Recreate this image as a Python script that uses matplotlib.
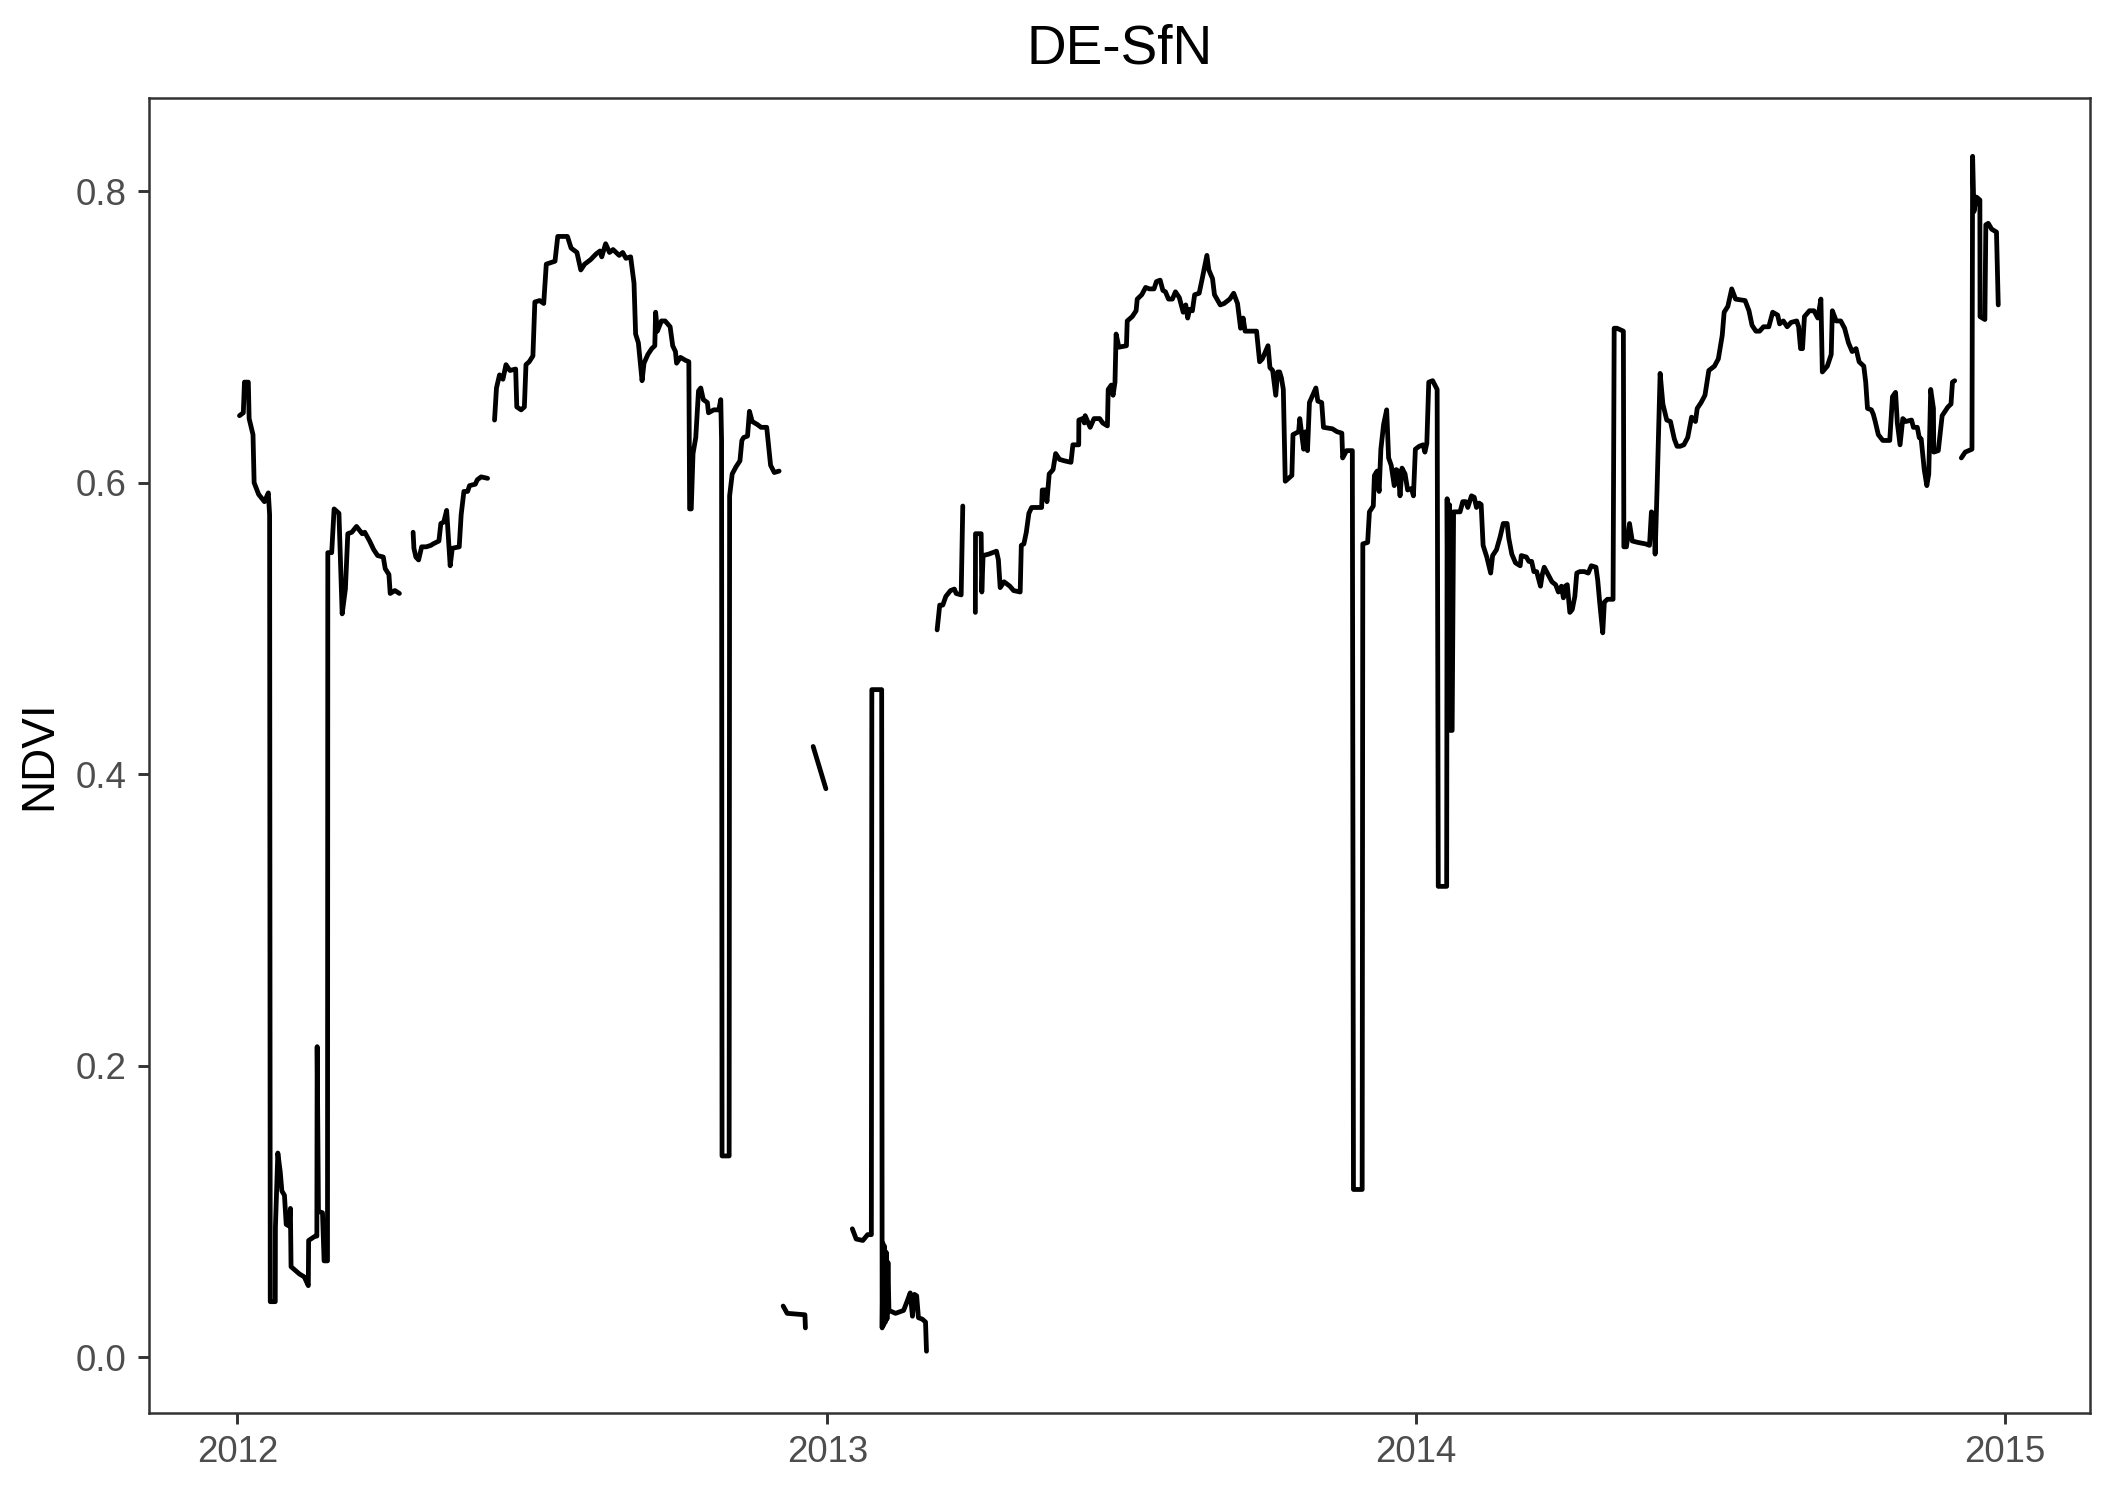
import numpy as np
import matplotlib
matplotlib.use("Agg")
import matplotlib.pyplot as plt
import matplotlib.dates as mdates
from datetime import datetime

plt.rcParams['font.family'] = ['Liberation Sans', 'DejaVu Sans']

title = "DE-SfN"
y_label = "NDVI"
start = datetime(2012, 1, 1)

# days since 2012-01-01, NaN marks a gap in the record
day = [
    1.3, 3.7, 4.4, 6.8, 7.3, 9.7, 10.4, 13.2, 16.8, 19.2, 20.0, 20.4, 23.5, 23.6,
    25.1, 26.6, 27.6, 29.2, 30.3, 31.9, 32.9, 33.3, 38.5, 41.5, 44.0, 44.2, 48.3,
    49.3, 49.5, 50.3, 52.8, 53.8, 55.9, 56.1, 58.5, 60.0, 63.0, 65.0, 67.0, 68.5,
    71.0, 73.9, 77.4, 79.0, 82.0, 84.6, 87.0, 90.5, 91.7, 94.0, 94.8, 97.7, 100.5,
    np.nan,
    109.0, 109.5, 110.7, 112.4, 114.3, 117.2, 120.0, 121.4, 125.0, 126.2, 128.0,
    129.8, 131.0, 132.0, 133.3, 137.6, 138.8, 140.5, 142.8, 144.0, 147.6, 148.8,
    151.2, 155.2,
    np.nan,
    159.5, 160.7, 162.6, 164.7, 166.6, 169.0, 172.6, 173.3, 176.0, 178.0, 179.0,
    181.0, 183.3, 184.5, 187.5, 190.0, 191.6, 197.0, 198.7, 204.7, 207.0, 210.6,
    213.0, 215.4, 219.0, 222.5, 224.9, 226.0, 228.4, 230.8, 233.0, 236.8, 239.0,
    241.0, 243.9, 246.0, 247.0, 248.7, 251.0, 252.2, 254.6, 257.0, 258.9, 259.4,
    260.5, 263.0, 265.3, 268.4, 270.0, 271.7, 272.4, 274.8, 277.9, 280.0, 280.5,
    281.5, 282.6, 284.3, 286.0, 287.4, 289.0, 291.5, 292.2, 295.5, 298.6, 299.8,
    300.3, 300.6, 305.0, 305.3, 306.9, 309.3, 311.7, 312.9, 314.0, 316.4, 317.6,
    319.3, 322.4, 324.8, 328.3, 330.7, 333.0, 336.0,
    np.nan,
    338.5, 341.0, 352.0, 352.3,
    np.nan,
    357.1, 365.0,
    np.nan,
    381.4, 383.8, 387.9, 390.9, 393.2, 393.5, 399.6, 399.9, 400.4, 400.9, 401.4,
    401.9, 402.4, 402.9, 403.5, 404.1, 408.2, 413.2, 415.3, 417.3, 418.7, 419.9,
    421.3, 422.4, 424.8, 426.8, 427.4,
    np.nan,
    434.0, 435.6, 437.5, 439.4, 442.3, 444.7, 445.8, 448.9, 449.9,
    np.nan,
    457.7, 457.8, 461.3, 461.7, 462.5, 466.0, 470.8, 472.0, 473.1, 475.5, 479.1,
    481.4, 485.5, 486.2, 487.8, 489.3, 490.9, 492.6, 498.8, 499.2, 501.1, 502.1,
    503.5, 505.9, 507.5, 509.9, 513.0, 517.0, 518.2, 521.8, 521.9, 524.2, 525.3,
    525.8, 528.9, 531.3, 534.8, 536.7, 539.6, 540.1, 542.0, 543.1, 544.3, 545.0,
    546.7, 551.4, 551.9, 555.0, 557.4, 558.1, 560.9, 563.3, 565.7, 568.5, 570.0,
    572.3, 574.0, 575.6, 577.5, 579.9, 581.8, 584.2, 586.6, 588.2, 589.4, 590.6,
    592.3, 593.7, 596.5, 598.4, 601.3, 602.5, 604.8, 606.0, 609.6, 612.0, 615.5,
    617.9, 620.3, 622.2, 623.8, 625.0, 628.6, 632.1, 634.0, 635.7, 639.2, 640.4,
    642.1, 644.0, 645.2, 646.4, 647.5, 648.7, 649.9, 653.0, 654.0, 654.7, 658.2,
    658.9, 661.3, 662.5, 663.7, 664.9, 668.9, 670.1, 672.5, 673.6, 679.1, 682.0,
    685.0, 685.5, 687.9, 691.5, 692.2, 697.6, 698.0, 701.0, 702.1, 704.5, 705.2,
    706.9, 708.1, 709.2, 710.9, 712.8, 714.0, 715.6, 717.5, 718.7, 719.9, 721.1,
    722.3, 724.2, 725.8, 728.2, 729.4, 730.6, 733.0, 735.4, 736.5, 737.7, 738.9,
    741.3, 744.1, 744.8, 750.0, 750.3, 751.0, 751.7, 752.4, 753.4, 754.3, 758.3,
    760.0, 761.9, 763.1, 765.4, 767.1, 768.5, 770.2, 771.4, 772.6, 774.9, 777.3,
    778.5, 780.9, 783.2, 785.1, 787.5, 788.5, 790.4, 792.7, 795.6, 796.3, 799.4,
    801.0, 802.7, 804.1, 805.8, 808.2, 809.3, 810.5, 815.3, 817.6, 819.3, 821.2,
    822.4, 823.6, 824.8, 826.4, 827.9, 829.5, 830.7, 832.6, 835.4, 837.8, 839.7,
    842.6, 843.7, 844.9, 846.8, 847.8, 849.7, 853.2, 853.9, 855.6, 859.6, 859.9,
    861.5, 863.4, 865.1, 868.7, 873.4, 875.8, 877.0, 878.6, 879.3, 880.5, 881.7,
    882.4, 884.1, 886.5, 888.8, 891.2, 892.9, 894.8, 897.1, 899.5, 901.9, 904.3,
    905.4, 907.8, 910.2, 912.6, 916.1, 918.5, 920.9, 922.1, 924.4, 926.8, 929.2,
    935.1, 937.5, 939.4, 941.8, 944.1, 946.5, 949.8, 952.2, 955.3, 956.5, 958.8,
    961.2, 963.6, 967.1, 968.3, 969.5, 970.7, 971.9, 975.0, 977.8, 980.2, 982.1,
    983.0, 986.1, 988.5, 989.2, 991.6, 994.4, 996.8, 999.2, 1001.5, 1003.9,
    1005.8, 1008.7, 1009.9, 1011.0, 1013.4, 1014.6, 1015.8, 1017.7, 1020.5,
    1024.8, 1026.5, 1028.4, 1029.5, 1031.2, 1032.9, 1034.8, 1038.3, 1039.5,
    1041.9, 1043.1, 1044.3, 1046.2, 1047.8, 1049.0, 1050.2, 1051.9, 1052.1,
    1054.9, 1057.3, 1060.9, 1062.8, 1063.7, 1065.1,
    np.nan,
    1069.2, 1071.6, 1075.8, 1076.2, 1077.0, 1078.6, 1080.7, 1080.8, 1083.8,
    1084.4, 1085.9, 1088.0, 1091.0, 1092.1,
]

ndvi = [
    0.646, 0.648, 0.669, 0.669, 0.644, 0.633, 0.600, 0.592, 0.587, 0.593, 0.578, 0.038, 0.038, 0.089,
    0.140, 0.127, 0.114, 0.111, 0.091, 0.090, 0.102, 0.062, 0.057, 0.055, 0.049, 0.080, 0.083,
    0.083, 0.213, 0.100, 0.099, 0.066, 0.066, 0.552, 0.552, 0.582, 0.579, 0.510, 0.527, 0.565,
    0.566, 0.570, 0.565, 0.566, 0.560, 0.554, 0.550, 0.549, 0.541, 0.537, 0.524, 0.526, 0.524,
    np.nan,
    0.566, 0.555, 0.549, 0.547, 0.556, 0.556, 0.557, 0.558, 0.560, 0.572, 0.573,
    0.581, 0.560, 0.543, 0.555, 0.556, 0.578, 0.594, 0.594, 0.598, 0.599, 0.602,
    0.604, 0.603,
    np.nan,
    0.643, 0.665, 0.674, 0.671, 0.681, 0.677, 0.678, 0.652, 0.650, 0.652, 0.681,
    0.683, 0.687, 0.724, 0.725, 0.723, 0.750, 0.752, 0.769, 0.769, 0.761, 0.758,
    0.746, 0.750, 0.753, 0.757, 0.759, 0.755, 0.764, 0.758, 0.760, 0.756, 0.758,
    0.754, 0.755, 0.737, 0.702, 0.696, 0.670, 0.682, 0.688, 0.692, 0.694, 0.717,
    0.704, 0.711, 0.711, 0.707, 0.694, 0.690, 0.682, 0.686, 0.684, 0.683, 0.582,
    0.582, 0.620, 0.631, 0.663, 0.665, 0.657, 0.655, 0.648, 0.650, 0.650, 0.657,
    0.629, 0.138, 0.138, 0.591, 0.606, 0.611, 0.615, 0.629, 0.631, 0.632, 0.649,
    0.642, 0.640, 0.638, 0.638, 0.612, 0.607, 0.608,
    np.nan,
    0.035, 0.030, 0.029, 0.020,
    np.nan,
    0.419, 0.390,
    np.nan,
    0.088, 0.081, 0.080, 0.084, 0.084, 0.458, 0.458, 0.020, 0.078, 0.022, 0.076,
    0.024, 0.072, 0.026, 0.065, 0.032, 0.030, 0.032, 0.038, 0.044, 0.028, 0.043,
    0.042, 0.027, 0.026, 0.024, 0.004,
    np.nan,
    0.499, 0.516, 0.516, 0.522, 0.526, 0.527, 0.524, 0.523, 0.584,
    np.nan,
    0.511, 0.565, 0.565, 0.525, 0.550, 0.551, 0.553, 0.547, 0.528, 0.532, 0.529,
    0.526, 0.525, 0.557, 0.558, 0.566, 0.579, 0.583, 0.583, 0.595, 0.595, 0.587,
    0.606, 0.609, 0.620, 0.616, 0.615, 0.614, 0.626, 0.626, 0.643, 0.644, 0.641,
    0.646, 0.638, 0.644, 0.644, 0.641, 0.639, 0.664, 0.667, 0.660, 0.669, 0.702,
    0.693, 0.694, 0.711, 0.714, 0.718, 0.726, 0.729, 0.734, 0.733, 0.733, 0.738,
    0.739, 0.732, 0.731, 0.726, 0.726, 0.731, 0.727, 0.717, 0.722, 0.713, 0.719,
    0.718, 0.729, 0.730, 0.740, 0.756, 0.746, 0.740, 0.729, 0.722, 0.723, 0.726,
    0.730, 0.723, 0.706, 0.713, 0.704, 0.704, 0.704, 0.683, 0.685, 0.694, 0.679,
    0.677, 0.660, 0.676, 0.676, 0.672, 0.664, 0.601, 0.604, 0.605, 0.633, 0.635,
    0.644, 0.623, 0.635, 0.622, 0.655, 0.665, 0.656, 0.655, 0.638, 0.637, 0.635,
    0.634, 0.617, 0.622, 0.622, 0.115, 0.115, 0.558, 0.559, 0.580, 0.584, 0.605,
    0.608, 0.594, 0.623, 0.640, 0.650, 0.617, 0.612, 0.598, 0.609, 0.608, 0.591,
    0.610, 0.606, 0.595, 0.596, 0.591, 0.623, 0.625, 0.626, 0.621, 0.627, 0.669,
    0.670, 0.664, 0.323, 0.323, 0.589, 0.440, 0.585, 0.430, 0.430, 0.580, 0.580,
    0.587, 0.587, 0.583, 0.591, 0.590, 0.583, 0.586, 0.585, 0.557, 0.549, 0.538,
    0.550, 0.554, 0.563, 0.572, 0.572, 0.562, 0.551, 0.545, 0.543, 0.550, 0.549,
    0.546, 0.546, 0.539, 0.539, 0.529, 0.537, 0.542, 0.532, 0.530, 0.525, 0.529,
    0.521, 0.529, 0.530, 0.511, 0.513, 0.522, 0.538, 0.539, 0.539, 0.538, 0.543,
    0.542, 0.533, 0.518, 0.497, 0.518, 0.520, 0.520, 0.706, 0.706, 0.704, 0.556,
    0.556, 0.572, 0.560, 0.559, 0.558, 0.557, 0.580, 0.578, 0.551, 0.596, 0.647,
    0.675, 0.654, 0.643, 0.642, 0.630, 0.625, 0.625, 0.626, 0.631, 0.645, 0.642,
    0.651, 0.655, 0.660, 0.677, 0.680, 0.685, 0.701, 0.717, 0.721, 0.733, 0.726,
    0.725, 0.718, 0.708, 0.704, 0.704, 0.707, 0.707, 0.717, 0.715, 0.709, 0.711,
    0.707, 0.710, 0.711, 0.707, 0.692, 0.692, 0.714, 0.718, 0.718, 0.713, 0.726,
    0.676, 0.680, 0.688, 0.718, 0.711, 0.711, 0.706, 0.696, 0.690, 0.692,
    0.683, 0.680, 0.669, 0.651, 0.650, 0.647, 0.642, 0.633, 0.629,
    0.629, 0.659, 0.662, 0.641, 0.626, 0.644, 0.642, 0.643, 0.638,
    0.638, 0.631, 0.630, 0.609, 0.598, 0.606, 0.664, 0.651, 0.621,
    0.622, 0.646, 0.652, 0.654, 0.669, 0.670,
    np.nan,
    0.617, 0.621, 0.623, 0.824, 0.786, 0.796, 0.794, 0.714, 0.712,
    0.777, 0.778, 0.774, 0.772, 0.722,
]

x = mdates.date2num(start) + np.array(day, dtype=float)
y = np.array(ndvi, dtype=float)

W, H = 2115, 1493
fig = plt.figure(figsize=(W / 300, H / 300), dpi=300)
left, right, top, bottom = 149, 2090, 98, 1413
ax = fig.add_axes([left / W, 1 - bottom / H, (right - left) / W, (bottom - top) / H])

ax.plot(x, y, color="black", linewidth=1.15, solid_joinstyle="round",
        solid_capstyle="round")

ax.set_xlim(mdates.date2num(start) - 54.8, mdates.date2num(start) + 1149)
ax.set_ylim(-0.0384, 0.864)

ax.xaxis.set_major_locator(mdates.YearLocator())
ax.xaxis.set_major_formatter(mdates.DateFormatter("%Y"))
ax.set_yticks([0.0, 0.2, 0.4, 0.6, 0.8])
ax.set_yticklabels(["0.0", "0.2", "0.4", "0.6", "0.8"])

for s in ax.spines.values():
    s.set_color("#333333")
    s.set_linewidth(0.6)
ax.tick_params(axis="both", length=2.75, width=0.7, color="#333333",
               labelsize=8.8, labelcolor="#4D4D4D", pad=2.6)

ax.set_ylabel(y_label, fontsize=11, color="black")
ax.yaxis.set_label_coords(-0.0453, 0.5)

fig.text((left + right) / 2 / W, 1 - 64 / H, title, fontsize=13.2,
         ha="center", va="baseline", color="black")

fig.savefig("out.png", dpi=300)
